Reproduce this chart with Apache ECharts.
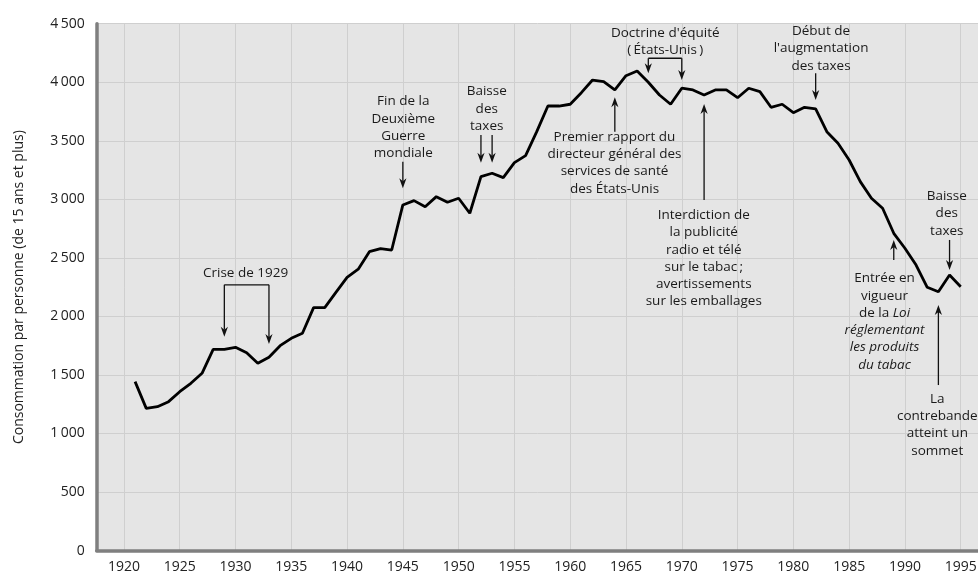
<!DOCTYPE html>
<html>
<head>
<meta charset="utf-8">
<script src="https://cdn.jsdelivr.net/npm/echarts@6/dist/echarts.min.js"></script>
<style>
html, body { margin: 0; padding: 0; background: #fff; }
#chart { width: 978px; height: 573px; }
</style>
</head>
<body>
<div id="chart"></div>
<script>
// consommation de cigarettes par personne, 1921-1995
const years = [
  1921, 1922, 1923, 1924, 1925, 1926, 1927, 1928, 1929, 1930,
  1931, 1932, 1933, 1934, 1935, 1936, 1937, 1938, 1939, 1940,
  1941, 1942, 1943, 1944, 1945, 1946, 1947, 1948, 1949, 1950,
  1951, 1952, 1953, 1954, 1955, 1956, 1957, 1958, 1959, 1960,
  1961, 1962, 1963, 1964, 1965, 1966, 1967, 1968, 1969, 1970,
  1971, 1972, 1973, 1974, 1975, 1976, 1977, 1978, 1979, 1980,
  1981, 1982, 1983, 1984, 1985, 1986, 1987, 1988, 1989, 1990,
  1991, 1992, 1993, 1994, 1995
];
const consumption = [
  1443, 1215, 1229, 1272, 1357, 1429, 1514, 1719, 1719, 1736,
  1690, 1600, 1651, 1750, 1813, 1856, 2075, 2075, 2205, 2334,
  2403, 2553, 2579, 2567, 2952, 2989, 2937, 3023, 2975, 3009,
  2881, 3194, 3223, 3185, 3313, 3373, 3578, 3797, 3797, 3812,
  3911, 4019, 4005, 3934, 4056, 4096, 4000, 3891, 3812, 3949,
  3934, 3891, 3934, 3934, 3868, 3949, 3920, 3786, 3812, 3740,
  3786, 3772, 3578, 3479, 3336, 3151, 3009, 2924, 2710, 2582,
  2439, 2249, 2211, 2354, 2254
];
const yearTicks = [1920, 1925, 1930, 1935, 1940, 1945, 1950, 1955, 1960, 1965, 1970, 1975, 1980, 1985, 1990, 1995];

const FONT = '"Open Sans", "Noto Sans", sans-serif';
const INK = '#111';

// annotations: text block centre and arrows, in data units (year, value)
const notes = [
  { text: 'Crise de 1929', at: [1930.9, 2368],
    brackets: [[[1929, 2270], [1933, 2270]]],
    arrows: [[[1929, 2270], [1929, 1827]], [[1933, 2270], [1933, 1765]]] },
  { text: 'Fin de la\nDeuxième\nGuerre\nmondiale', at: [1945.04, 3614],
    arrows: [[[1945, 3322], [1945, 3094]]] },
  { text: 'Baisse\ndes\ntaxes', at: [1952.52, 3773],
    arrows: [[[1952, 3550], [1952, 3313]], [[1953, 3550], [1953, 3313]]] },
  { text: 'Doctrine d\'équité\n(\u2009États-Unis\u2009)', at: [1968.52, 4348],
    brackets: [[[1967, 4205], [1970, 4205]]],
    arrows: [[[1967, 4205], [1967, 4077]], [[1970, 4205], [1970, 4020]]] },
  { text: 'Premier rapport du\ndirecteur général des\nservices de santé\ndes États-Unis', at: [1963.97, 3312],
    arrows: [[[1964, 3577], [1964, 3872]]] },
  { text: 'Interdiction de\nla publicité\nradio et télé\nsur le tabac\u2009;\navertissements\nsur les emballages', at: [1971.97, 2496],
    arrows: [[[1972, 2995], [1972, 3814]]] },
  { text: 'Début de\nl\'augmentation\ndes taxes', at: [1982.48, 4287],
    arrows: [[[1982, 4077], [1982, 3849]]] },
  { text: 'Baisse\ndes\ntaxes', at: [1993.75, 2878],
    arrows: [[[1994, 2653], [1994, 2397]]] },
  { text: 'Entrée en\nvigueur\nde la {i|Loi}\n{i|réglementant}\n{i|les produits}\n{i|du tabac}', at: [1988.17, 1955],
    arrows: [[[1989, 2482], [1989, 2653]]] },
  { text: 'La\ncontrebande\natteint un\nsommet', at: [1992.9, 1074],
    arrows: [[[1993, 1414], [1993, 2098]]] }
];

function arrowParts(p0, p1) {
  const dx = p1[0] - p0[0], dy = p1[1] - p0[1];
  const len = Math.sqrt(dx * dx + dy * dy) || 1;
  const ux = dx / len, uy = dy / len;
  const L = 10, W = 3.6;
  const bx = p1[0] - ux * L, by = p1[1] - uy * L;
  const nx = p1[0] - ux * L * 0.7, ny = p1[1] - uy * L * 0.7;
  return [
    { type: 'line', shape: { x1: p0[0], y1: p0[1], x2: nx, y2: ny }, style: { stroke: INK, lineWidth: 1.3 } },
    { type: 'polygon', shape: { points: [p1, [bx - uy * W, by + ux * W], [nx, ny], [bx + uy * W, by - ux * W]] },
      style: { fill: INK } }
  ];
}

const chart = echarts.init(document.getElementById('chart'));
chart.setOption({
  animation: false,
  grid: {
    left: 96.7, right: 0, top: 23.7, bottom: 22.4,
    show: true, backgroundColor: '#e5e5e5', borderWidth: 0,
    outerBoundsMode: 'none'
  },
  xAxis: {
    type: 'value',
    min: 1917.56,
    max: 1996.55,
    axisLine: { show: true, onZero: false, lineStyle: { color: '#7f7f7f', width: 3.5 } },
    axisTick: { show: false, customValues: yearTicks },
    axisLabel: {
      customValues: yearTicks, fontSize: 14, color: '#222', margin: 9, fontFamily: FONT,
      formatter: v => String(v)
    },
    splitLine: { show: true, lineStyle: { color: '#cfcfcf', width: 1 } }
  },
  yAxis: {
    type: 'value',
    min: 0,
    max: 4500,
    interval: 500,
    name: 'Consommation par personne (de 15 ans et plus)',
    nameLocation: 'middle',
    nameGap: 71,
    nameTextStyle: { fontSize: 14, color: '#222', fontFamily: FONT },
    axisLine: { show: true, lineStyle: { color: '#7f7f7f', width: 3.5 } },
    axisTick: { show: false },
    axisLabel: {
      fontSize: 14, color: '#222', margin: 12, fontFamily: FONT,
      formatter: v => v >= 1000 ? Math.floor(v / 1000) + '\u2009' + String(v % 1000).padStart(3, '0') : String(v)
    },
    splitLine: { show: true, lineStyle: { color: '#cfcfcf', width: 1 } }
  },
  series: [
    {
      type: 'line',
      data: years.map((y, i) => [y, consumption[i]]),
      showSymbol: false,
      lineStyle: { color: '#000', width: 2.8 },
      z: 3
    },
    {
      type: 'custom',
      data: notes.map(n => n.at),
      clip: false,
      silent: true,
      z: 4,
      renderItem: (params, api) => {
        const n = notes[params.dataIndex];
        const c = api.coord(n.at);
        const kids = [{
          type: 'text', x: c[0], y: c[1],
          style: {
            text: n.text, fill: '#1a1a1a', fontSize: 13.5, fontFamily: FONT,
            align: 'center', verticalAlign: 'middle', lineHeight: 17.3,
            rich: { i: { fontStyle: 'italic', fontSize: 13.5, fontFamily: FONT, lineHeight: 17.3, fill: '#1a1a1a' } }
          }
        }];
        (n.brackets || []).forEach(b => kids.push({
          type: 'polyline', shape: { points: b.map(p => api.coord(p)) },
          style: { stroke: INK, lineWidth: 1.3, fill: null }
        }));
        (n.arrows || []).forEach(a => kids.push(...arrowParts(api.coord(a[0]), api.coord(a[1]))));
        return { type: 'group', children: kids };
      }
    }
  ]
});
</script>
</body>
</html>
